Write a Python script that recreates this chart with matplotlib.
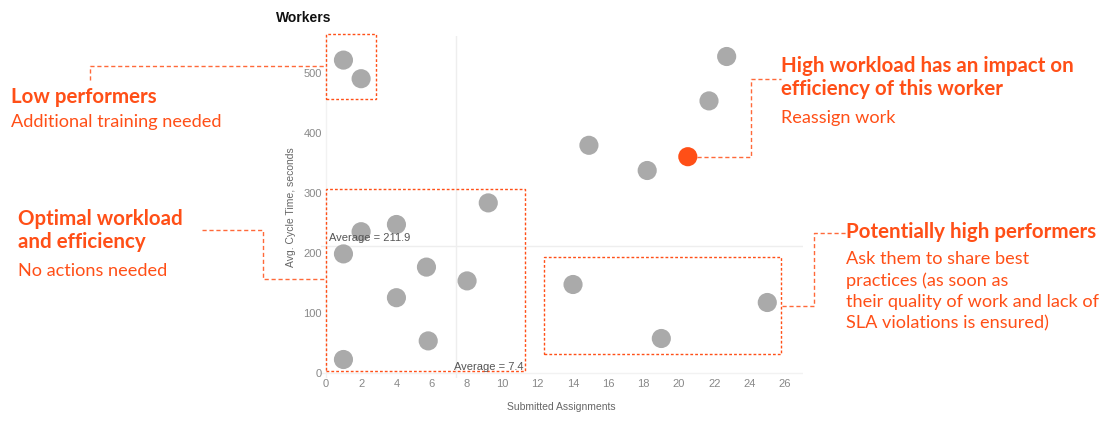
import matplotlib
matplotlib.use('Agg')
from matplotlib import pyplot as plt
from matplotlib.lines import Line2D
from matplotlib.patches import Rectangle

plt.rcParams['font.family'] = ['Lato', 'DejaVu Sans']

# workers: submitted assignments vs avg cycle time (seconds)
submitted = [1, 2, 9.2, 2, 4, 1, 5.7, 8, 4, 5.8, 1, 22.7, 21.7, 14.9, 18.2, 14, 19, 25]
cycle_time = [522, 491, 284, 236, 248, 199, 177, 154, 126, 54, 23, 528, 454, 380, 338, 148, 58, 118]
flagged_x = [20.5]
flagged_y = [361]
avg_x = 7.4
avg_y = 211.9
x_ticks = list(range(0, 27, 2))
y_ticks = [0, 100, 200, 300, 400, 500]

ORANGE = '#ff4f17'
GREY = '#aaaaaa'
W, H = 1115, 422

fig = plt.figure(figsize=(W / 100, H / 100), dpi=100)
ax = fig.add_axes([320.5 / W, 1 - 378.1 / H, 482.1 / W, 342 / H])

ax.scatter(submitted, cycle_time, s=190, color=GREY, edgecolors='none', zorder=3)
ax.scatter(flagged_x, flagged_y, s=190, color=ORANGE, edgecolors='none', zorder=3)

ax.axvline(avg_x, color='#eeeeee', lw=1, zorder=1)
ax.axhline(avg_y, color='#eeeeee', lw=1, zorder=1)
ax.axhline(0, color='#f2f2f2', lw=1, zorder=1)
ax.axvline(0, color='#f2f2f2', lw=1, zorder=1)
ax.text(0.2, avg_y + 5, 'Average = 211.9', fontsize=8, color='#555555',
        family=['Liberation Sans'], va='bottom', ha='left')
ax.text(11.2, 2, 'Average = 7.4', fontsize=8, color='#555555',
        family=['Liberation Sans'], va='bottom', ha='right')

ax.set_xlim(-0.3, 27)
ax.set_ylim(-8, 562)
ax.set_xticks(x_ticks)
ax.set_yticks(y_ticks)
ax.tick_params(length=0, labelsize=8, colors='#888888')
ax.tick_params(axis='x', pad=1)
ax.tick_params(axis='y', pad=-1)
for lab in ax.get_xticklabels() + ax.get_yticklabels():
    lab.set_family(['Liberation Sans'])
for s in ax.spines.values():
    s.set_visible(False)
ax.set_xlabel('Submitted Assignments', fontsize=7.5, color='#666666',
              family=['Liberation Sans'], labelpad=9)
ax.set_ylabel('Avg. Cycle Time, seconds', fontsize=7.5, color='#666666',
              family=['Liberation Sans'], labelpad=5)

# dashed group boxes (data coords)
boxes = [(0, 458, 2.86, 107), (0, 4, 11.3, 303), (12.37, 32, 13.43, 162)]
for bx, by, bw, bh in boxes:
    ax.add_patch(Rectangle((bx, by), bw, bh, fill=False, ec=ORANGE, lw=1,
                           ls=(0, (2, 1.5)), clip_on=False, zorder=2))


def px(x, y):
    return x / W, 1 - y / H


def connector(points):
    xs, ys = zip(*[px(x, y) for x, y in points])
    fig.add_artist(Line2D(xs, ys, color=ORANGE, lw=1, ls=(0, (3, 2)), alpha=0.85))


connector([(90, 80), (90, 66), (325, 66)])
connector([(202, 230), (263, 230), (263, 279), (325, 279)])
connector([(697, 157), (751, 157), (751, 79), (781, 79)])
connector([(782, 306), (814, 306), (814, 233), (846, 233)])

# annotation texts
fig.text(276 / W, 1 - 17.5 / H, 'Workers', fontsize=10, fontweight='bold',
         color='#111111', va='center', family=['Liberation Sans'])

def note(x, y, s, bold=False, size=13.1):
    fig.text(x / W, 1 - y / H, s, fontsize=size, color=ORANGE, va='center',
             fontweight='bold' if bold else 'normal')

note(11, 97, 'Low performers', True, 14.8)
note(11, 122, 'Additional training needed')
note(18, 219, 'Optimal workload', True, 14.8)
note(18, 242, 'and efficiency', True, 14.8)
note(18, 271, 'No actions needed')
note(781, 66, 'High workload has an impact on', True, 14.8)
note(781, 89, 'efficiency of this worker', True, 14.8)
note(781, 118, 'Reassign work')
note(846, 232, 'Potentially high performers', True, 14.8)
note(846, 259, 'Ask them to share best')
note(846, 281, 'practices (as soon as')
note(846, 302, 'their quality of work and lack of')
note(846, 323, 'SLA violations is ensured)')

fig.savefig('out.png', dpi=100)
